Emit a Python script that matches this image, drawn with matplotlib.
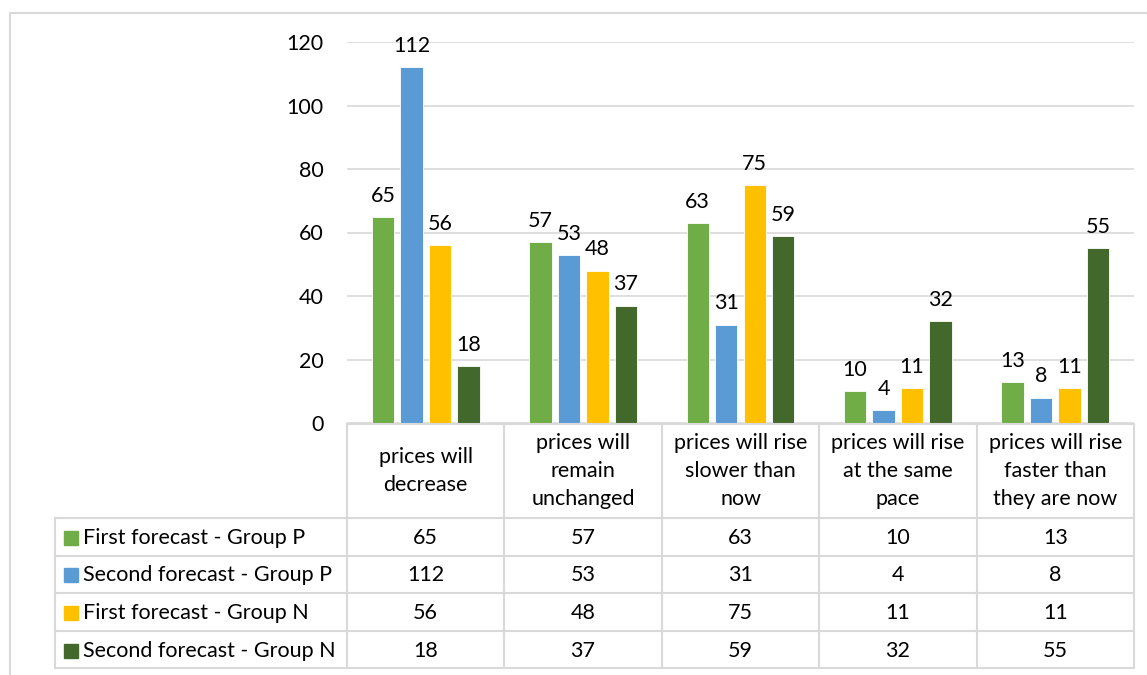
import matplotlib.pyplot as plt
import matplotlib.transforms as mtransforms
from matplotlib.lines import Line2D
from matplotlib.patches import Rectangle
import numpy as np

plt.rcParams['font.family'] = ['Lato', 'DejaVu Sans']

categories = ['prices will\ndecrease', 'prices will\nremain\nunchanged',
              'prices will rise\nslower than\nnow', 'prices will rise\nat the same\npace',
              'prices will rise\nfaster than\nthey are now']
series_names = ['First forecast - Group P', 'Second forecast - Group P',
                'First forecast - Group N', 'Second forecast - Group N']
first_p = [65, 57, 63, 10, 13]
second_p = [112, 53, 31, 4, 8]
first_n = [56, 48, 75, 11, 11]
second_n = [18, 37, 59, 32, 55]
series = [first_p, second_p, first_n, second_n]
colors = ['#70ad47', '#5b9bd5', '#ffc000', '#43682b']

W, H = 1147, 675
fig = plt.figure(figsize=(W / 100, H / 100), dpi=100)

def fx(x):
    return x / W

def fy(y):
    return 1 - y / H

# plot area in pixels
left, right, top, bottom = 347, 1134, 42, 423
ax = fig.add_axes([fx(left), fy(bottom), fx(right - left), (bottom - top) / H])

fs = 15.5
grid_c = '#d9d9d9'
x = np.arange(len(categories))
bw = 0.142
step = 0.181
for i, (vals, c) in enumerate(zip(series, colors)):
    pos = x + (i - 1.5) * step
    bars = ax.bar(pos, vals, width=bw, color=c, edgecolor='white', linewidth=0.6, zorder=3)
    for b, v in zip(bars, vals):
        ax.annotate(str(v), (b.get_x() + b.get_width() / 2, v), xytext=(0, 8),
                    textcoords='offset points', ha='center', va='bottom', fontsize=fs)

ax.set_xlim(-0.5, len(categories) - 0.5)
ax.set_ylim(0, 120)
ax.set_yticks(range(0, 121, 20))
ax.yaxis.grid(True, color=grid_c, linewidth=1.2, zorder=0)
ax.tick_params(axis='y', length=0, pad=17, labelsize=fs)
ax.tick_params(axis='x', bottom=False, labelbottom=False)
for s in ax.spines.values():
    s.set_visible(False)

# data table below the plot
trans = mtransforms.blended_transform_factory(ax.transData, fig.transFigure)
header_top, header_bot = 424, 518
row_h = 37.6
n_rows = len(series)
table_bot = header_bot + n_rows * row_h
legend_left = 55

def fline(xs, ys, transform):
    fig.add_artist(Line2D(xs, ys, transform=transform, color=grid_c, linewidth=1.5))

# header lines
fline([-0.5, len(categories) - 0.5], [fy(header_top)] * 2, trans)
for k in range(len(categories) + 1):
    fline([k - 0.5] * 2, [fy(header_top), fy(table_bot)], trans)
# row lines
for r in range(n_rows + 1):
    yy = header_bot + r * row_h
    fig.add_artist(Line2D([fx(legend_left), fx(right)], [fy(yy)] * 2,
                          transform=fig.transFigure, color=grid_c, linewidth=1.5))
fig.add_artist(Line2D([fx(legend_left)] * 2, [fy(header_bot), fy(table_bot)],
                      transform=fig.transFigure, color=grid_c, linewidth=1.5))

for k, cat in enumerate(categories):
    fig.text(k, fy((header_top + header_bot) / 2), cat, transform=trans,
             ha='center', va='center', fontsize=fs, linespacing=1.5)

for r, (name, vals, c) in enumerate(zip(series_names, series, colors)):
    yc = header_bot + (r + 0.5) * row_h + 1
    fig.add_artist(Rectangle((fx(64), fy(yc + 7)), fx(14), 14 / H,
                             transform=fig.transFigure, color=c))
    fig.text(fx(83), fy(yc), name, ha='left', va='center', fontsize=fs)
    for k, v in enumerate(vals):
        fig.text(k, fy(yc), str(v), transform=trans, ha='center', va='center', fontsize=fs)

# chart border
fig.add_artist(Line2D([fx(10), fx(10), 1.0], [0, fy(13), fy(13)],
                      transform=fig.transFigure, color=grid_c, linewidth=1.5))

fig.savefig('out.png', dpi=100)
